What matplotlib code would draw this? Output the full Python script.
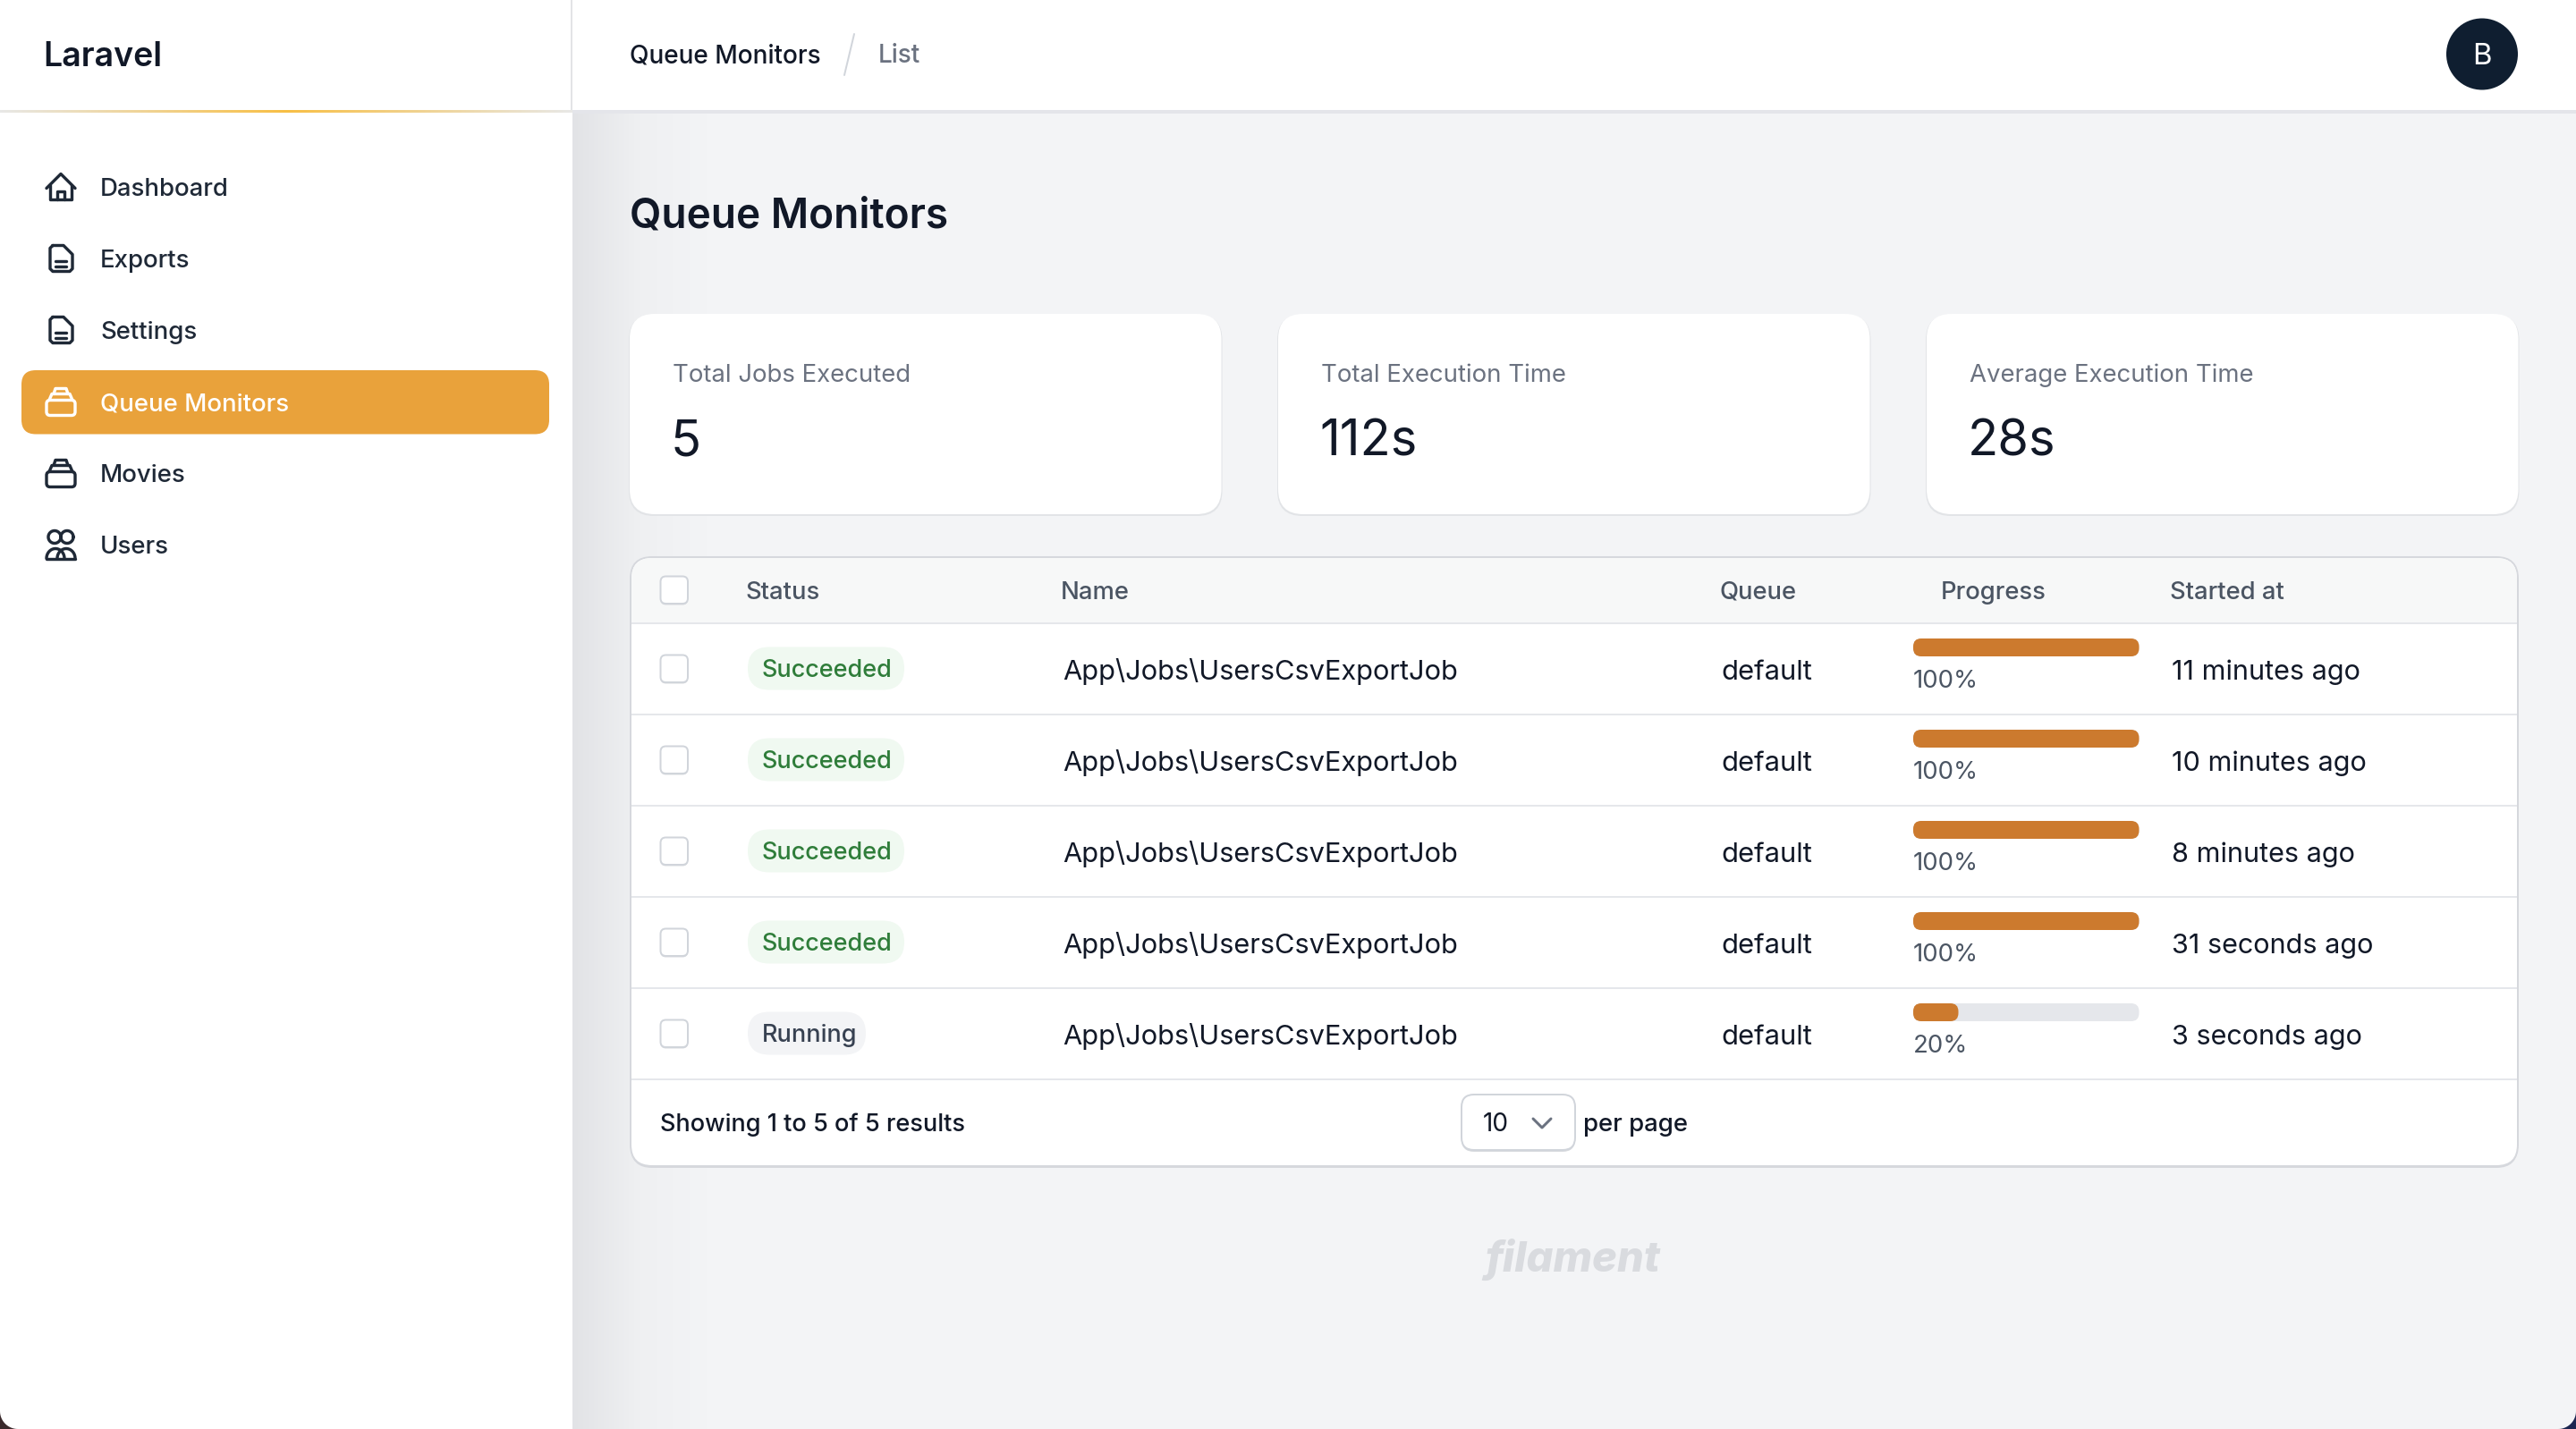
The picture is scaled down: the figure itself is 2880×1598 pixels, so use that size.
import numpy as np
import matplotlib
matplotlib.use('Agg')
import matplotlib.pyplot as plt
from matplotlib.colors import LinearSegmentedColormap
from matplotlib.patches import FancyBboxPatch, Rectangle, Circle, Polygon

W, H = 2880, 1598
plt.rcParams['font.family'] = ['Inter', 'DejaVu Sans']

# chart content
NAV_ITEMS = ['Dashboard', 'Exports', 'Settings', 'Queue Monitors', 'Movies', 'Users']
NAV_ICONS = ['home', 'doc', 'doc', 'stack', 'stack', 'users']
ACTIVE_NAV = 'Queue Monitors'
STAT_LABELS = ['Total Jobs Executed', 'Total Execution Time', 'Average Execution Time']
STAT_VALUES = ['5', '112s', '28s']
COLUMNS = ['Status', 'Name', 'Queue', 'Progress', 'Started at']
ROW_STATUS = ['Succeeded', 'Succeeded', 'Succeeded', 'Succeeded', 'Running']
ROW_NAME = ['App\\Jobs\\UsersCsvExportJob'] * 5
ROW_QUEUE = ['default'] * 5
ROW_PROGRESS = [100, 100, 100, 100, 20]
ROW_STARTED = ['11 minutes ago', '10 minutes ago', '8 minutes ago', '31 seconds ago', '3 seconds ago']

INK = '#111827'
GRAY = '#6b7280'
SLATE = '#4b5563'
LINE = '#e5e7eb'
AMBER = '#e9a23b'
ORANGE = '#cc7a2e'


def rrect(ax, x0, y0, x1, y1, r, face='white', edge='none', lw=0, **kw):
    p = FancyBboxPatch((x0, y0), x1 - x0, y1 - y0, boxstyle=f'round,pad=0,rounding_size={r}',
                       facecolor=face, edgecolor=edge, linewidth=lw * 0.36, **kw)
    ax.add_patch(p)
    return p


def rect(ax, x0, y0, x1, y1, face, zorder=1):
    ax.add_patch(Rectangle((x0, y0), x1 - x0, y1 - y0, facecolor=face, edgecolor='none', zorder=zorder))


def txt(ax, x, cy, s, px, color=INK, weight='normal', ha='left', **kw):
    # cy is the middle of the cap height, px the font size in image pixels
    ax.text(x, cy + 0.36 * px, s, fontsize=px * 0.36, color=color, fontweight=weight,
            ha=ha, va='baseline', **kw)


def stroke(ax, xs, ys, color, lw=3.4):
    ax.plot(xs, ys, color=color, lw=lw * 0.36, solid_capstyle='round', solid_joinstyle='round')


def draw_icon(ax, kind, cx, cy, color):
    def line(*pts):
        pts = np.array(pts, dtype=float)
        stroke(ax, cx + pts[:, 0], cy + pts[:, 1], color)

    if kind == 'home':
        line((-16, 1), (0, -15), (16, 1))
        line((-12, -3), (-12, 13), (12, 13), (12, -3))
        line((-4, 13), (-4, 4), (4, 4), (4, 13))
    elif kind == 'doc':
        line((-9, -15), (3, -15), (13, -5), (13, 11), (10, 14), (-9, 14), (-12, 11), (-12, -12), (-9, -15))
        line((-6, 2), (6, 2))
        line((-6, 8), (6, 8))
    elif kind == 'stack':
        rrect(ax, cx - 16, cy - 2, cx + 16, cy + 15, 4, face='none', edge=color, lw=3.4)
        line((-13, -2), (-10, -9), (10, -9), (13, -2))
        line((-8, -9), (-6, -15), (6, -15), (8, -9))
    elif kind == 'users':
        t = np.linspace(0, 2 * np.pi, 60)
        for dx in (-7, 7):
            stroke(ax, cx + dx + 7 * np.cos(t), cy - 9 + 7 * np.sin(t), color)
        t = np.linspace(np.pi, 2 * np.pi, 40)
        for dx in (-6, 6):
            stroke(ax, cx + dx + 10 * np.cos(t), cy + 15 + 11 * np.sin(t), color)
        line((-16, 15), (16, 15))


def corner(ax, cx, cy, sx, color, r=20):
    # screen corner showing behind the rounded window
    t = np.linspace(0, np.pi / 2, 30)
    arc = np.column_stack([cx + sx * (r - r * np.cos(t)), cy - r + r * np.sin(t)])
    pts = np.vstack([[cx, cy], arc])
    ax.add_patch(Polygon(pts, closed=True, facecolor=color, edgecolor='none', zorder=5))


fig = plt.figure(figsize=(W / 200, H / 200), dpi=200)
ax = fig.add_axes([0, 0, 1, 1])
ax.set_axis_off()

# page background and sidebar shadow
rect(ax, 0, 0, W, H, '#f3f4f6', zorder=0)
rect(ax, 0, 0, 640, H, 'white', zorder=0)
rect(ax, 638, 0, W, 125, 'white', zorder=0)
shade = LinearSegmentedColormap.from_list('shade', ['#e2e3e6', '#eff0f2', '#f3f4f6'])
ax.imshow(np.linspace(0, 1, 200)[None, :], extent=(640, 790, H, 127), cmap=shade, aspect='auto', zorder=0.5)

# top bar
rect(ax, 638, 0, 640, 125, '#e3e4e6')
rect(ax, 640, 123, W, 127, '#e4e5ea')
gold = LinearSegmentedColormap.from_list('gold', ['#e8e8e6', '#f8bf45', '#e8e8e6'])
ax.imshow(np.linspace(0, 1, 400)[None, :], extent=(0, 640, 126, 123), cmap=gold, aspect='auto', zorder=1.5)
txt(ax, 48, 61, 'Laravel', 37.5, weight='semibold')
txt(ax, 704, 60, 'Queue Monitors', 28, weight='medium')
stroke(ax, [944, 955], [84, 38], '#d1d5db', lw=2)
txt(ax, 982, 60, 'List', 28, color=GRAY, weight='medium')
ax.add_patch(Circle((2775, 60.5), 40, facecolor='#0f1e30', edgecolor='none'))
txt(ax, 2775, 60.5, 'B', 33, color='white', ha='center')

# sidebar
for i, (item, icon) in enumerate(zip(NAV_ITEMS, NAV_ICONS)):
    cy = 209.5 + 80 * i
    active = item == ACTIVE_NAV
    if active:
        rrect(ax, 24, cy - 35.5, 614, cy + 36, 16, face=AMBER)
    col = 'white' if active else '#1f2937'
    draw_icon(ax, icon, 68, cy, col)
    txt(ax, 112, cy, item, 27.6, color=col, weight='medium')

txt(ax, 704, 238, 'Queue Monitors', 46, weight='semibold')

# stat cards
for i, (label, value) in enumerate(zip(STAT_LABELS, STAT_VALUES)):
    x0 = 704 + 725 * i
    x1 = x0 + 661.5
    rrect(ax, x0 - 1, 352, x1 + 1, 577, 28, face='#e2e4e7')
    rrect(ax, x0, 351, x1, 575, 28)
    txt(ax, x0 + 48, 417, label, 27.6, color=GRAY)
    txt(ax, x0 + 46, 489, value, 56)

# table
TX0, TX1, TY0, TY1 = 705, 2815, 623, 1304
rrect(ax, TX0, TY0, TX1, TY1 + 2, 24, face='#d6d8dd')
rrect(ax, TX0, TY0, TX1, TY1, 24, edge='#d6d8dd', lw=2)
rrect(ax, TX0 + 1, TY0 + 1, TX1 - 1, 720, 23, face='#f7f8f8')
rect(ax, TX0 + 1, 680, TX1 - 1, 698, '#f7f8f8')
rect(ax, TX0 + 1, 698, TX1 - 1, 720, 'white')
rect(ax, TX0 + 1, 695.5, TX1 - 1, 698, LINE)

col_x = [833, 1186, 1923, 2170, 2426]
for name, x in zip(COLUMNS, col_x):
    txt(ax, x, 660, name, 27.4, color=SLATE, weight='medium')


def checkbox(cy):
    rrect(ax, 738.5, cy - 14.5, 769, cy + 16.5, 6, face='#d8dade')
    rrect(ax, 738.5, cy - 15.5, 769, cy + 15, 6, edge='#d1d5db', lw=2)


checkbox(660)
TRACK_X, TRACK_W = 2139, 252.5
for i in range(len(ROW_STATUS)):
    cy = 747.5 + 102 * i
    rect(ax, TX0 + 1, cy + 50, TX1 - 1, cy + 52.5, LINE)
    checkbox(cy + 0.5)

    status = ROW_STATUS[i]
    ok = status == 'Succeeded'
    rrect(ax, 836, cy - 24, 1011 if ok else 968, cy + 24, 24, face='#f0f9f1' if ok else '#f3f4f6')
    txt(ax, 852, cy, status, 27, color='#2f7d3a' if ok else '#374151', weight='medium')

    txt(ax, 1188, cy + 1, ROW_NAME[i], 30.8)
    txt(ax, 1924, cy + 1, ROW_QUEUE[i], 31)

    rrect(ax, TRACK_X, cy - 33.5, TRACK_X + TRACK_W, cy - 13.5, 9, face=LINE)
    rrect(ax, TRACK_X, cy - 33.5, TRACK_X + TRACK_W * ROW_PROGRESS[i] / 100, cy - 13.5, 9, face=ORANGE)
    txt(ax, TRACK_X, cy + 12, f'{ROW_PROGRESS[i]}%', 27.6, color=SLATE)

    txt(ax, 2428, cy + 1, ROW_STARTED[i], 30.6)

# footer
txt(ax, 738, 1255, 'Showing 1 to 5 of 5 results', 27.1, weight='medium')
rrect(ax, 1634, 1226, 1761, 1288, 14, face='#d8dade')
rrect(ax, 1634, 1224, 1761, 1286, 14, edge='#d1d5db', lw=2)
txt(ax, 1658, 1255, '10', 28)
stroke(ax, [1714, 1724, 1734], [1251, 1261, 1251], GRAY, lw=3)
txt(ax, 1770, 1255, 'per page', 27.6, weight='medium')

txt(ax, 1758, 1405, 'filament', 47, color='#d9dbdf', weight='heavy', ha='center', style='italic')

# window corners
corner(ax, 0, H, 1, '#3a2a2c')
corner(ax, W, H, -1, '#1b2550')

ax.set_xlim(0, W)
ax.set_ylim(H, 0)
fig.savefig('out.png', dpi=200)
